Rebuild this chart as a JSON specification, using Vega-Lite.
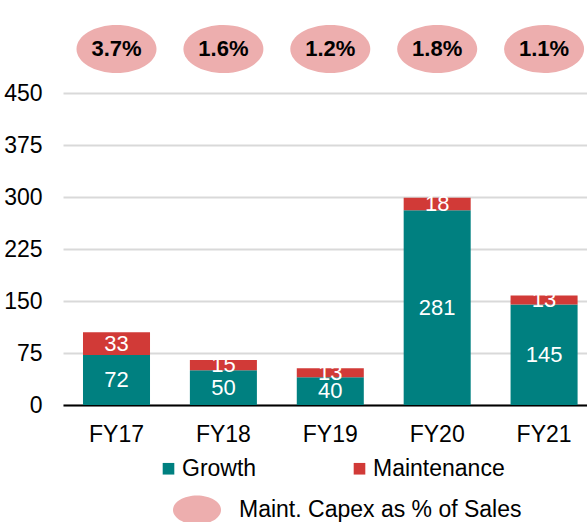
{
  "$schema": "https://vega.github.io/schema/vega-lite/v6.json",
  "autosize": {"type": "pad"},
  "padding": {"left": 3, "top": 24, "right": 0, "bottom": 0},
  "background": "white",
  "bounds": "flush",
  "spacing": 19,
  "config": {
    "font": "Liberation Sans",
    "view": {"stroke": null},
    "legend": {"padding": 0}
  },
  "vconcat": [
    {
      "width": 524,
      "height": 50,
      "data": {"values": [
        {"year": "FY17", "pct": 0.037},
        {"year": "FY18", "pct": 0.016},
        {"year": "FY19", "pct": 0.012},
        {"year": "FY20", "pct": 0.018},
        {"year": "FY21", "pct": 0.011}
      ]},
      "encoding": {
        "x": {"field": "year", "type": "nominal", "sort": null, "axis": null,
              "scale": {"type": "band", "paddingInner": 0.373, "paddingOuter": 0.1375, "align": 0.68}}
      },
      "layer": [
        {
          "mark": {"type": "point", "filled": true, "fill": "#EDAEAE", "opacity": 1, "size": 6400, "strokeWidth": 0},
          "encoding": {
            "shape": {"datum": "Maint. Capex as % of Sales", "type": "nominal",
                      "scale": {"range": ["M-1,0A1,0.6,0,1,1,1,0A1,0.6,0,1,1,-1,0Z"]},
                      "legend": {"title": null, "orient": "none", "legendX": 110, "legendY": 462,
                                 "symbolSize": 2304, "symbolFillColor": "#EDAEAE", "symbolStrokeWidth": 0,
                                 "symbolOpacity": 1, "labelFontSize": 23, "labelColor": "black",
                                 "labelOffset": 18, "labelLimit": 400}}
          }
        },
        {
          "mark": {"type": "text", "fontWeight": "bold", "fontSize": 22, "color": "black"},
          "encoding": {"text": {"field": "pct", "type": "quantitative", "format": ".1%"}}
        }
      ]
    },
    {
      "width": 524,
      "height": 312,
      "data": {"values": [
        {"year": "FY17", "type": "Growth", "value": 72},
        {"year": "FY17", "type": "Maintenance", "value": 33},
        {"year": "FY18", "type": "Growth", "value": 50},
        {"year": "FY18", "type": "Maintenance", "value": 15},
        {"year": "FY19", "type": "Growth", "value": 40},
        {"year": "FY19", "type": "Maintenance", "value": 13},
        {"year": "FY20", "type": "Growth", "value": 281},
        {"year": "FY20", "type": "Maintenance", "value": 18},
        {"year": "FY21", "type": "Growth", "value": 145},
        {"year": "FY21", "type": "Maintenance", "value": 13}
      ]},
      "transform": [
        {"stack": "value", "groupby": ["year"], "sort": [{"field": "type", "order": "ascending"}], "as": ["v0", "v1"]},
        {"calculate": "(datum.v0 + datum.v1) / 2", "as": "mid"}
      ],
      "encoding": {
        "x": {"field": "year", "type": "nominal", "sort": null,
              "scale": {"type": "band", "paddingInner": 0.373, "paddingOuter": 0.1375, "align": 0.68},
              "axis": {"title": null, "labelAngle": 0, "labelFontSize": 23, "labelColor": "black",
                       "ticks": false, "domainColor": "black", "domainWidth": 2, "labelPadding": 18}}
      },
      "layer": [
        {
          "mark": {"type": "bar"},
          "encoding": {
            "y": {"field": "v0", "type": "quantitative", "scale": {"domain": [0, 450]},
                  "axis": {"title": null, "values": [0, 75, 150, 225, 300, 375, 450], "grid": true,
                           "gridColor": "#D9D9D9", "gridWidth": 2, "domain": false, "ticks": false,
                           "labelFontSize": 23, "labelColor": "black", "labelPadding": 21}},
            "y2": {"field": "v1"},
            "color": {"field": "type", "type": "nominal",
                      "scale": {"domain": ["Growth", "Maintenance"], "range": ["#008080", "#D13A37"]},
                      "legend": {"title": null, "orient": "none", "direction": "horizontal",
                                 "legendX": 94, "legendY": 433, "symbolType": "square", "symbolSize": 135,
                                 "labelFontSize": 23, "labelColor": "black", "columnPadding": 91,
                                 "labelOffset": 2, "symbolStrokeWidth": 0}}
          }
        },
        {
          "mark": {"type": "text", "color": "white", "fontSize": 22},
          "encoding": {
            "y": {"field": "mid", "type": "quantitative"},
            "text": {"field": "value", "type": "quantitative"}
          }
        }
      ]
    }
  ]
}
